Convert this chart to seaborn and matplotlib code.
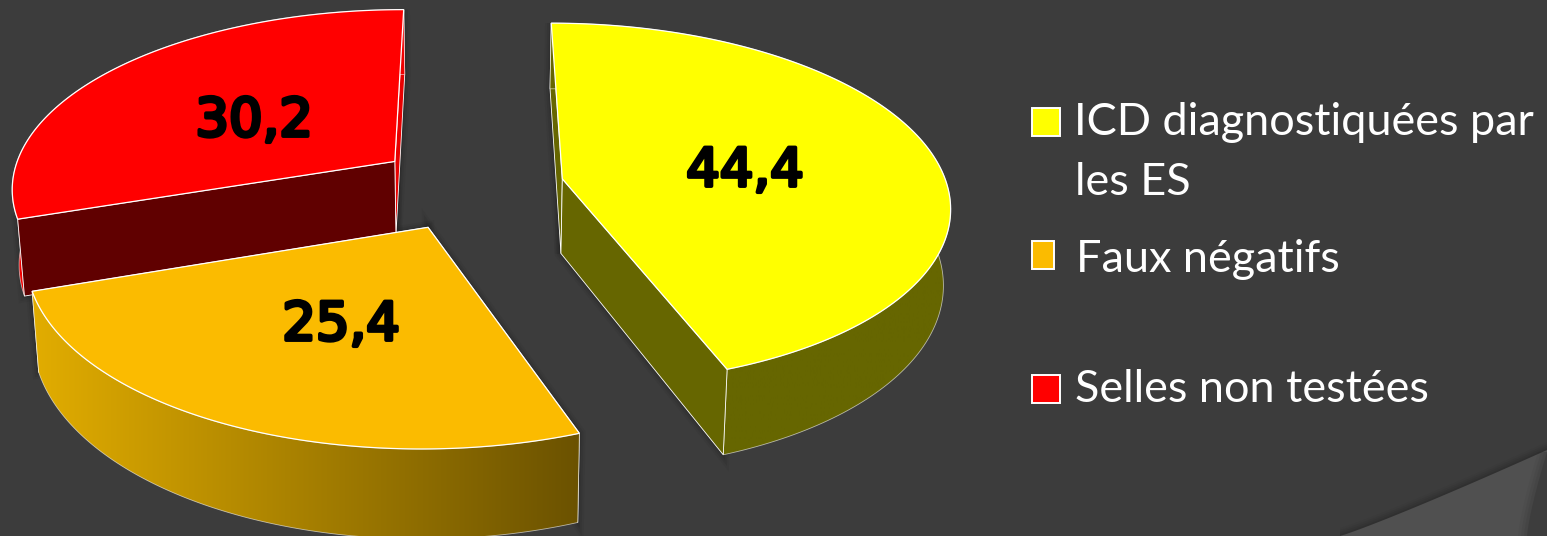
import numpy as np
import matplotlib
matplotlib.use("Agg")
import matplotlib.pyplot as plt
from matplotlib.patches import Polygon, Rectangle
from matplotlib.colors import LinearSegmentedColormap
import matplotlib.patheffects as pe
import seaborn as sns

# Parts of the pie, clockwise from the top
categories = ["ICD diagnostiquées par\nles ES", "Faux négatifs", "Selles non testées"]
values = [44.4, 25.4, 30.2]
value_labels = ["44,4", "25,4", "30,2"]
top_colors = ["#ffff00", "#fbbb00", "#ff0000"]
# Cut-face colours: (face at the start angle, face at the end angle)
cut_colors = [("#666600", "#666600"), ("#6b5200", "#6b5200"), ("#600000", "#e80000")]
wall_colors = [("#666600", "#666600"), ("#e2ad00", "#6b5200"), ("#f00000", "#f00000")]
label_xy = [(745, 171), (341, 325), (254, 121)]

BG = "#3c3c3c"
sns.set_theme(style="dark", rc={"figure.facecolor": BG, "axes.facecolor": BG})
plt.rcParams["font.family"] = ["Lato", "DejaVu Sans"]
palette = sns.color_palette(top_colors)

# Projection of the pie plane: perspective towards a viewer below the centre
CX, CY = 470.0, 186.5
RX, RY = 385.0, 179.0
PERSP = 0.137
EXPLODE = 0.245
HEIGHT = 75.0
FOOT = 0.985


def project(X, Z, lifted=False):
    s = 1.0 / (1.0 + PERSP * Z)
    x = RX * X * s
    y = -RY * Z * s
    if lifted:
        return CX + x * FOOT, CY + y + HEIGHT * s
    return CX + x, CY + y


fig = plt.figure(figsize=(15.47, 5.36), dpi=100)
ax = fig.add_axes([0, 0, 1, 1])
W, H = 1547, 536

# Lighter folded corner of the slide background, with a soft shadow on its edge
edge_x = np.linspace(1340, 1547, 40)
edge_y = 536 - 86 * ((edge_x - 1340) / 207) ** 1.08
for offset, alpha in zip([8, 6, 4, 2], [0.03, 0.04, 0.05, 0.06]):
    ax.add_patch(Polygon(np.r_[np.c_[edge_x, edge_y - offset], [[1547, 536], [1340, 536]]],
                         closed=True, fc="black", ec="none", alpha=alpha, zorder=0))
ax.add_patch(Polygon(np.r_[np.c_[edge_x, edge_y], [[1547, 536]]],
                     closed=True, fc="#505050", ec="none", zorder=0.5))
fold_y = np.linspace(536, 452, 30)
fold_x = 1527 + 20 * ((536 - fold_y) / 84) ** 1.3
for offset, alpha in zip([0, 3, 6, 9], [0.10, 0.05, 0.04, 0.03]):
    ax.add_patch(Polygon(np.r_[np.c_[fold_x - offset, fold_y], [[1547, 452], [1547, 536]]],
                         closed=True, fc="black", ec="none", alpha=alpha, zorder=0.6))

starts = np.r_[0, np.cumsum(values)[:-1]] / np.sum(values) * 2 * np.pi
stops = np.cumsum(values) / np.sum(values) * 2 * np.pi

# The red part lies behind the orange one, so it is drawn first
for z_base, i in zip([1, 5, 3], range(3)):
    a0, a1 = starts[i], stops[i]
    mid = (a0 + a1) / 2
    ox, oz = EXPLODE * np.sin(mid), EXPLODE * np.cos(mid)
    th = np.linspace(a0, a1, 160)
    X, Z = ox + np.sin(th), oz + np.cos(th)

    tx, ty = project(X, Z)
    bx, by = project(X, Z, lifted=True)
    ax0, ay0 = project(ox, oz)
    bx0, by0 = project(ox, oz, lifted=True)
    wall = np.r_[np.c_[tx, ty], np.c_[bx, by][::-1]]

    # Cut faces: those turned to the viewer go over the outer wall
    normals = (a0 - np.pi / 2, a1 + np.pi / 2)
    for k, normal, color in zip((0, -1), normals, cut_colors[i]):
        face = [[ax0, ay0], [tx[k], ty[k]], [bx[k], by[k]], [bx0, by0]]
        z = z_base + 0.3 if np.cos(normal) < -1e-6 else z_base
        ax.add_patch(Polygon(face, closed=True, fc=color, ec="white", lw=0.6, zorder=z))
        # Soft shadow along the cut
        for lw, alpha in zip([9, 6, 3], [0.04, 0.06, 0.08]):
            ax.add_patch(Polygon(face, closed=True, fc="none", ec="black", lw=lw,
                                 alpha=alpha, zorder=0.8))

    # Outer wall, shaded from left to right
    poly = Polygon(wall, closed=True, fc="none", ec=(1, 1, 1, 0.6), lw=0.6, zorder=z_base + 0.2)
    ax.add_patch(poly)
    cmap = LinearSegmentedColormap.from_list("wall", wall_colors[i])
    grad = np.linspace(0, 1, 256)[None, :]
    im = ax.imshow(grad, cmap=cmap, extent=(wall[:, 0].min(), wall[:, 0].max(), H, 0),
                   aspect="auto", zorder=z_base + 0.1)
    im.set_clip_path(poly)

    # Upper face
    top = np.r_[[[ax0, ay0]], np.c_[tx, ty]]
    ax.add_patch(Polygon(top, closed=True, fc=palette[i], ec="white", lw=0.9,
                         joinstyle="miter", zorder=z_base + 0.5))

    # Value label, thickened with a rounded stroke
    ax.text(*label_xy[i], value_labels[i], ha="center", va="center", fontsize=38,
            family="DejaVu Sans", color="black", zorder=10,
            path_effects=[pe.withStroke(linewidth=2.8, foreground="black")])

# Legend
swatches = [(1032, 108, 28), (1032, 241, 22), (1032, 375, 28)]
text_lines = [[(1074, 135, "ICD diagnostiquées par"), (1075, 195, "les ES")],
              [(1076, 272, "Faux négatifs")],
              [(1075, 402, "Selles non testées")]]
for i, (sx, sy, sw) in enumerate(swatches):
    ax.add_patch(Rectangle((sx, sy), sw, 28, fc=palette[i], ec="white", lw=1.4, zorder=6))
    for lx, ly, line in text_lines[i]:
        ax.text(lx, ly, line, ha="left", va="baseline", fontsize=32.4, color="white", zorder=6)

ax.set_xlim(0, W)
ax.set_ylim(H, 0)
ax.axis("off")
fig.savefig("out.png", dpi=100, facecolor=BG)
